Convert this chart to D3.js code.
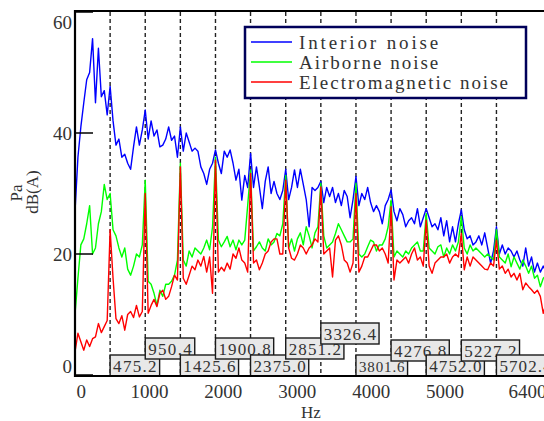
<!DOCTYPE html>
<html>
<head>
<meta charset="utf-8">
<script src="https://cdn.jsdelivr.net/npm/d3@7"></script>
<style>
  html, body { margin: 0; padding: 0; background: #fff; }
  svg { display: block; }
</style>
</head>
<body>
<div id="chart"></div>
<script>
// ---------- data ----------
const freqStep = 475.2 / 12;           // spectral resolution (Hz)
const interiorNoise = [
  27, 36, 41, 45, 48.8, 50, 55.6, 45, 54, 46, 47, 43,
  47.7, 42, 38, 39, 36, 36.5, 35, 34, 37.7, 41, 38, 40.5,
  43.8, 39, 42, 39.5, 40.5, 37.7, 38, 39, 41, 38.8, 39.5, 36,
  41, 37, 40, 38.5, 37, 37.5, 37, 34.4, 33.3, 31.5, 34, 35,
  37.2, 35, 33.3, 37, 36, 37.2, 35, 32.2, 34, 28.9, 33, 31,
  36.6, 31, 34.4, 31.1, 27.5, 32, 34.4, 30, 32, 30, 29, 30.5,
  34, 29, 31, 33.9, 31, 34, 31.5, 29, 24.5, 31, 30.5, 31,
  32, 28.5, 31, 29.5, 31, 28.5, 30, 28, 30.5, 29.5, 26, 29,
  32.8, 28, 30, 29, 31, 28.5, 27, 28, 27, 25, 28, 29,
  30.6, 27, 25.5, 27.5, 26.5, 24.5, 25.5, 26, 25, 27.5, 24.5, 26,
  27.5, 26, 24.5, 25, 24, 26, 23, 25.5, 22, 24.5, 22, 25,
  27.3, 24, 22.5, 23, 21.5, 22, 23, 21.5, 23.5, 21, 18.5, 20.5,
  24.5, 20, 21.5, 20, 21, 20.5, 19.5, 20.5, 19, 18, 21, 18,
  19.5, 17, 18.5, 17, 18, 17
];
const airborneNoise = [
  10, 16, 21.5, 22.5, 25, 28, 20, 21, 25, 27, 31.5, 29,
  30, 24, 23, 21, 19.5, 21, 17.5, 16.5, 18, 20, 19.5, 21.5,
  32.2, 15.5, 15, 13.5, 11.5, 14, 13, 15, 15, 15.5, 16.5, 19,
  35, 19, 18, 20.5, 19.5, 21, 20.5, 20, 21, 22.3, 20.7, 24.5,
  36, 22.3, 21.2, 22, 22.9, 21.2, 22.3, 20.7, 22.3, 21.5, 22.3, 28,
  33.9, 20.5, 21.2, 22, 21, 20.5, 22.5, 21.5, 22, 23.4, 23, 25,
  33, 21, 22.5, 20.5, 22.5, 23.5, 21.5, 24.5, 23, 21, 23.5, 24.5,
  31.7, 23, 21, 21.5, 22, 23.4, 25, 24, 23, 22, 22, 22.5,
  31.7, 20, 19.5, 20, 21.2, 22.3, 22, 20.5, 21.5, 21.5, 22.5, 24.5,
  28.9, 19.5, 20.5, 20, 19.5, 20.5, 20, 21, 21.5, 22, 20.5, 20.5,
  26.7, 21, 20.5, 20, 21.2, 21.5, 19.5, 21, 20, 21.5, 20.5, 22,
  26.2, 21, 20, 21.5, 20.5, 21, 20.5, 20, 19.5, 20, 19.5, 19,
  24, 19.5, 19, 18.5, 20, 17.9, 19.5, 18.5, 17.5, 19, 18, 16.8,
  18, 16, 16.5, 14.6, 16, 16.5
];
const electromagneticNoise = [
  3.8, 6.9, 5.5, 4.1, 5.8, 4.7, 6, 6.3, 8.5, 7, 8, 9,
  24, 16, 9.3, 8.5, 9.8, 7.4, 10, 10.5, 9.5, 11.5, 9.6, 10.5,
  30, 10.2, 11.5, 12.5, 11.3, 13.5, 14, 12.5, 13, 14.6, 16.5, 15.7,
  34.4, 16, 15, 16.5, 18, 17.4, 19, 18, 19.6, 17, 19.5, 13.5,
  35.5, 17, 17.8, 17.2, 18.5, 17.5, 20, 19.3, 21, 19, 18.5, 17,
  33.3, 18.5, 19, 17.4, 18.5, 20, 20.5, 22, 22.5, 22.5, 20, 20,
  32.2, 21, 19.3, 19, 20, 21.5, 21, 20, 21, 21.5, 22.5, 22,
  31.1, 20, 20.5, 21, 16.2, 22.3, 23, 21.5, 19, 18.5, 17, 18.5,
  30, 17, 18, 19.5, 19.5, 20.5, 21.5, 21.5, 20.5, 21, 20, 18.5,
  27.8, 15.7, 19, 18.5, 19, 19.5, 18.5, 20, 21, 19, 19.5, 18,
  25.6, 18, 16.8, 18.5, 19, 19.5, 19.5, 20, 18.5, 19.5, 20, 19.5,
  23.4, 17.4, 19.5, 18, 19.5, 19, 18.5, 18, 17.5, 17.4, 18.5, 18,
  22.3, 17.5, 18, 16.8, 17.5, 16.2, 16.8, 15.7, 16.8, 14.1, 15.2, 14.6,
  14.1, 13.5, 14, 13, 10.2, 12
];
const seriesNames = ["Interior noise", "Airborne noise", "Electromagnetic noise"];
const seriesColors = ["#0000ff", "#00ff00", "#ff0000"];
const harmonicLabels = ["475.2", "950.4", "1425.6", "1900.8", "2375.0", "2851.2",
                        "3326.4", "3801.6", "4276.8", "4752.0", "5227.2", "5702.4"];
const xTickValues = [0, 1000, 2000, 3000, 4000, 5000, 6400];
const yTickValues = [0, 20, 40, 60];

// ---------- layout ----------
const W = 544, H = 421;
const L = 75, R = 548, T = 12, B = 375;
const serif = "'Liberation Serif', 'Times New Roman', serif";

const svg = d3.select("#chart").append("svg")
  .attr("width", W).attr("height", H)
  .style("background", "#fff");

const x = d3.scaleLinear().domain([0, 6400]).range([L, R]);
const y = d3.scaleLinear().domain([0, 60]).range([B, T]);

const freqs = d3.range(interiorNoise.length).map(i => i * freqStep);

svg.append("defs").append("clipPath").attr("id", "plotclip")
  .append("rect").attr("x", L).attr("y", T - 1).attr("width", R - L).attr("height", B - T + 2);

// dashed harmonic lines
const harm = harmonicLabels.map(s => parseFloat(s));
svg.append("g").selectAll("line").data(harm).join("line")
  .attr("x1", d => x(d)).attr("x2", d => x(d))
  .attr("y1", T).attr("y2", B + 1)
  .attr("stroke", "#222").attr("stroke-width", 1.4)
  .attr("stroke-dasharray", "4,3");

// series
const line = d3.line().x((d, i) => x(freqs[i])).y(d => y(d));
const plot = svg.append("g").attr("clip-path", "url(#plotclip)");
[interiorNoise, airborneNoise, electromagneticNoise].forEach((s, k) => {
  plot.append("path").datum(s)
    .attr("d", line)
    .attr("fill", "none")
    .attr("stroke", seriesColors[k])
    .attr("stroke-width", 1.4)
    .attr("stroke-linejoin", "round");
});

// frame
svg.append("line").attr("x1", L).attr("x2", W).attr("y1", T - 1).attr("y2", T - 1)
  .attr("stroke", "#000").attr("stroke-width", 2);
svg.append("line").attr("x1", L).attr("x2", L).attr("y1", T - 2).attr("y2", B + 2)
  .attr("stroke", "#000").attr("stroke-width", 2.2);

// harmonic label boxes
const rowTop = [355, 338, 355, 338, 355, 338, 323, 355, 340, 355, 340, 355];
const boxes = svg.append("g");
harmonicLabels.forEach((lab, i) => {
  const small = lab === "3801.6";
  const cw = small ? 7.6 : 8.7;
  const fs = small ? 15 : 17;
  const tw = cw * lab.length;
  const bx = x(harm[i]);
  const by = rowTop[i];
  const g = boxes.append("g");
  g.append("rect").attr("x", bx).attr("y", by).attr("width", tw + 6).attr("height", 21)
    .attr("fill", "#e8e8e8").attr("stroke", "#1a1a1a").attr("stroke-width", 1.4);
  g.append("text").attr("x", bx + 3).attr("y", by + 16.5)
    .attr("font-family", serif).attr("font-size", fs).attr("fill", "#333")
    .attr("textLength", tw).attr("lengthAdjust", "spacing")
    .text(lab);
});

// bottom axis line
svg.append("line").attr("x1", L - 1).attr("x2", W).attr("y1", B + 1).attr("y2", B + 1)
  .attr("stroke", "#000").attr("stroke-width", 2);

// y ticks (inward)
svg.append("g").selectAll("line").data(yTickValues).join("line")
  .attr("x1", L).attr("x2", L + 18)
  .attr("y1", d => y(d)).attr("y2", d => y(d))
  .attr("stroke", "#000").attr("stroke-width", 1.5);

// axes labels through d3 axes
const xAxis = svg.append("g").attr("transform", `translate(0,${B + 1})`)
  .call(d3.axisBottom(x).tickValues(xTickValues).tickSize(0).tickPadding(9).tickFormat(d3.format("d")));
xAxis.select(".domain").remove();
xAxis.selectAll("text").attr("font-family", serif).attr("font-size", 19).attr("fill", "#333")
  .attr("text-anchor", d => d === 0 ? "start" : (d === 6400 ? "end" : "middle"))
  .attr("dx", d => d === 0 ? 1 : (d === 6400 ? -2 : 0));

const yAxis = svg.append("g").attr("transform", `translate(${L},0)`)
  .call(d3.axisLeft(y).tickValues(yTickValues).tickSize(0).tickPadding(3).tickFormat(d3.format("d")));
yAxis.select(".domain").remove();
yAxis.selectAll("text").attr("font-family", serif).attr("font-size", 19).attr("fill", "#333")
  .attr("dy", d => d === 60 ? "0.85em" : (d === 0 ? "-0.15em" : "0.32em"));

// axis titles
svg.append("text").attr("x", 311).attr("y", 418).attr("text-anchor", "middle")
  .attr("font-family", serif).attr("font-size", 17).attr("fill", "#333").text("Hz");
svg.append("text").attr("transform", "translate(22,193) rotate(-90)").attr("text-anchor", "middle")
  .attr("font-family", serif).attr("font-size", 17).attr("fill", "#333").text("Pa");
svg.append("text").attr("transform", "translate(38,192) rotate(-90)").attr("text-anchor", "middle")
  .attr("font-family", serif).attr("font-size", 17).attr("fill", "#333").text("dB(A)");

// legend
const lg = svg.append("g");
lg.append("rect").attr("x", 245).attr("y", 27).attr("width", 281).attr("height", 71)
  .attr("fill", "#fff").attr("stroke", "#00005a").attr("stroke-width", 2.5);
seriesNames.forEach((n, i) => {
  const yy = 42 + i * 20;
  lg.append("line").attr("x1", 251).attr("x2", 292).attr("y1", yy).attr("y2", yy)
    .attr("stroke", seriesColors[i]).attr("stroke-width", 1.4);
  lg.append("text").attr("x", 299).attr("y", yy + 6.5)
    .attr("font-family", serif).attr("font-size", 19).attr("fill", "#333")
    .attr("textLength", 9.95 * n.length).attr("lengthAdjust", "spacing")
    .text(n);
});
</script>
</body>
</html>
